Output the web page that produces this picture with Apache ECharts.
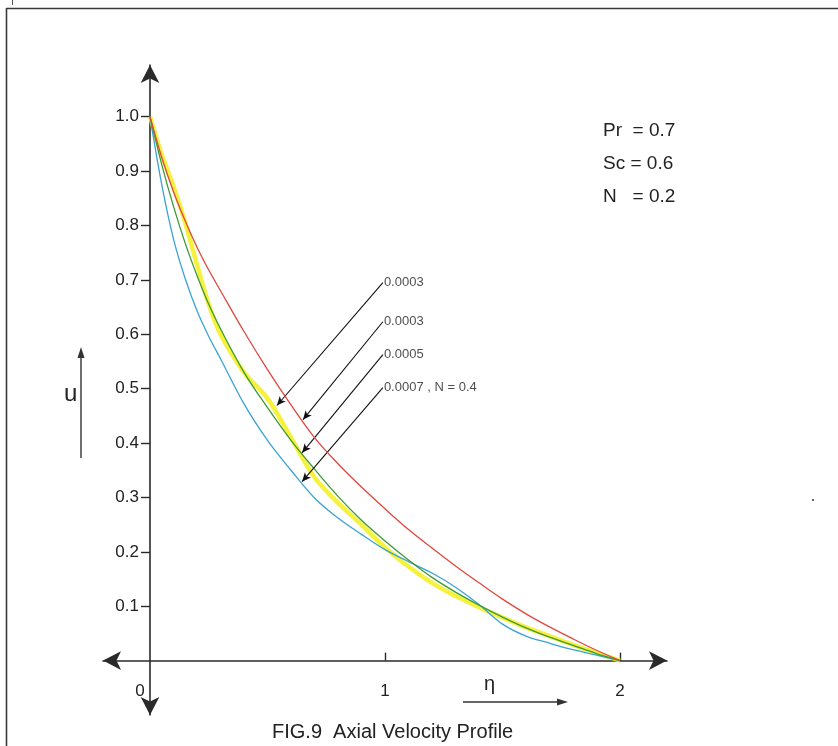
<!DOCTYPE html>
<html>
<head>
<meta charset="utf-8">
<script src="https://cdn.jsdelivr.net/npm/echarts@6/dist/echarts.min.js"></script>
<style>
  html, body { margin: 0; padding: 0; background: #ffffff; }
  #chart { width: 838px; height: 746px; }
</style>
</head>
<body>
<div id="chart"></div>
<script>
// Dimensionless distance η (shared by all curves)
const eta = [0, 0.05, 0.1, 0.15, 0.2, 0.25, 0.3, 0.4, 0.5, 0.6, 0.7, 0.8, 0.9,
             1.0, 1.1, 1.2, 1.3, 1.4, 1.5, 1.6, 1.7, 1.8, 1.9, 2.0];

// Axial velocity u(η) for each parameter case
const uRed    = [1.0, 0.925, 0.862, 0.808, 0.76, 0.718, 0.68, 0.605, 0.535, 0.47, 0.41, 0.362,
                 0.319, 0.279, 0.241, 0.207, 0.174, 0.143, 0.113, 0.086, 0.062, 0.04, 0.019, 0.0];
const uYellow = [1.0, 0.93, 0.872, 0.805, 0.728, 0.655, 0.6, 0.53, 0.482, 0.41, 0.337, 0.29,
                 0.25, 0.208, 0.173, 0.143, 0.119, 0.098, 0.079, 0.061, 0.045, 0.029, 0.014, 0.0];
const uGreen  = [1.0, 0.912, 0.835, 0.767, 0.708, 0.655, 0.61, 0.53, 0.465, 0.405, 0.352, 0.302,
                 0.258, 0.22, 0.185, 0.153, 0.126, 0.102, 0.08, 0.06, 0.043, 0.028, 0.013, 0.0];
const uBlue   = [1.0, 0.875, 0.775, 0.702, 0.643, 0.596, 0.555, 0.472, 0.405, 0.35, 0.299, 0.262,
                 0.232, 0.204, 0.182, 0.161, 0.135, 0.103, 0.067, 0.045, 0.032, 0.02, 0.01, 0.0];

// Tick values and labels
const yTicks = [0.1, 0.2, 0.3, 0.4, 0.5, 0.6, 0.7, 0.8, 0.9, 1.0];
const xTicks = [1, 2];
const xTickLabels = [0, 1, 2];

// Leader annotations: label text, label anchor (η, u), arrow tip (η, u)
const leaderText = ['0.0003', '0.0003', '0.0005', '0.0007 , N = 0.4'];
const leaderFrom = [[0.991, 0.695], [0.991, 0.623], [0.991, 0.5625], [0.991, 0.502]];
const leaderTo   = [[0.54, 0.469], [0.651, 0.443], [0.647, 0.382], [0.647, 0.329]];

// Fixed parameters
const paramLines = ['Pr  = 0.7', 'Sc = 0.6', 'N   = 0.2'];

const pairs = (ys) => eta.map((x, i) => [x, ys[i]]);
const FONT = "'Liberation Sans', Arial, sans-serif";

const chart = echarts.init(document.getElementById('chart'), null, { renderer: 'canvas' });

const curve = (name, ys, color, width, z) => ({
  name, type: 'line', data: pairs(ys), showSymbol: false,
  smooth: 0.35,
  lineStyle: { color, width }, z, silent: true, animation: false
});

const option = {
  backgroundColor: '#ffffff',
  animation: false,
  grid: { left: 103, right: 171, top: 65, bottom: 31, containLabel: false },
  xAxis: {
    type: 'value', min: -0.2, max: 2.2, interval: 0.2,
    splitLine: { show: false },
    axisLine: { show: true, onZero: true, symbol: ['arrow', 'arrow'], symbolSize: [14, 18],
                lineStyle: { color: '#2a2a2a', width: 1.6 } },
    axisTick: { show: true, inside: true, length: 8, customValues: xTicks,
                lineStyle: { color: '#2a2a2a', width: 1.4 } },
    axisLabel: {
      show: true, customValues: xTickLabels, margin: -32,
      color: '#222', fontFamily: FONT, fontSize: 17,
      formatter: v => (v === 0 ? '{z|0}' : String(v)),
      rich: { z: { padding: [0, 20, 0, 0], fontFamily: FONT, fontSize: 17, color: '#222' } }
    }
  },
  yAxis: {
    type: 'value', min: -0.1, max: 1.095, interval: 0.1,
    splitLine: { show: false },
    axisLine: { show: true, onZero: true, symbol: ['arrow', 'arrow'], symbolSize: [14, 18],
                lineStyle: { color: '#2a2a2a', width: 1.6 } },
    axisTick: { show: true, inside: false, length: 9, customValues: yTicks,
                lineStyle: { color: '#2a2a2a', width: 1.4 } },
    axisLabel: {
      show: true, customValues: yTicks, margin: -36,
      color: '#222', fontFamily: FONT, fontSize: 17,
      formatter: v => v.toFixed(1)
    }
  },
  series: [
    curve('yellow', uYellow, 'rgba(244,240,40,0.9)', 4.5, 2),
    curve('blue', uBlue, '#3aa3d6', 1.3, 3),
    curve('green', uGreen, '#3f9a36', 1.3, 4),
    curve('red', uRed, '#e0473f', 1.3, 5),
    {
      name: 'leaders', type: 'scatter', symbolSize: 0, z: 6, silent: true,
      data: leaderFrom.map((p, i) => ({ value: p, name: leaderText[i] })),
      label: { show: true, position: 'right', distance: 1, formatter: p => p.name,
               color: '#222', fontFamily: FONT, fontSize: 13 },
      markLine: {
        silent: true, symbol: ['none', 'arrow'], symbolSize: [6, 9],
        lineStyle: { color: '#111', width: 1.1, type: 'solid' },
        label: { show: false },
        data: leaderFrom.map((p, i) => [
          { coord: p }, { coord: leaderTo[i] }
        ])
      }
    }
  ],
  graphic: [
    // frame
    { type: 'line', shape: { x1: 6, y1: 8.5, x2: 838, y2: 8.5 }, style: { stroke: '#3a3a3a', lineWidth: 1.6 }, silent: true },
    { type: 'line', shape: { x1: 6.5, y1: 8, x2: 6.5, y2: 746 }, style: { stroke: '#3a3a3a', lineWidth: 1.6 }, silent: true },
    { type: 'line', shape: { x1: 12.5, y1: 0, x2: 12.5, y2: 5 }, style: { stroke: '#555', lineWidth: 1 }, silent: true },
    // parameters
    ...paramLines.map((t, i) => ({
      type: 'text', left: 603, top: 121 + i * 33,
      style: { text: t, fontFamily: FONT, fontSize: 19, fill: '#222' }, silent: true
    })),
    // u label and arrow
    { type: 'text', left: 64, top: 382, style: { text: 'u', fontFamily: FONT, fontSize: 24, fill: '#222' }, silent: true },
    { type: 'line', shape: { x1: 81, y1: 458, x2: 81, y2: 356 }, style: { stroke: '#333', lineWidth: 1.4 }, silent: true },
    { type: 'polygon', shape: { points: [[81, 347], [77.5, 358], [84.5, 358]] }, style: { fill: '#333' }, silent: true },
    // η label and arrow
    { type: 'text', left: 484, top: 674, style: { text: 'η', fontFamily: FONT, fontSize: 20, fill: '#222' }, silent: true },
    { type: 'line', shape: { x1: 463, y1: 702, x2: 560, y2: 702 }, style: { stroke: '#333', lineWidth: 1.4 }, silent: true },
    { type: 'polygon', shape: { points: [[568, 702], [557, 698.5], [557, 705.5]] }, style: { fill: '#333' }, silent: true },
    // caption
    { type: 'text', left: 272, top: 722, style: { text: 'FIG.9  Axial Velocity Profile', fontFamily: "'Liberation Sans Narrow', 'Liberation Sans', Arial, sans-serif", fontSize: 20, fill: '#222' }, silent: true },
    // stray mark at right
    { type: 'rect', shape: { x: 812, y: 499, width: 2, height: 2 }, style: { fill: '#666' }, silent: true }
  ]
};

chart.setOption(option);
</script>
</body>
</html>
